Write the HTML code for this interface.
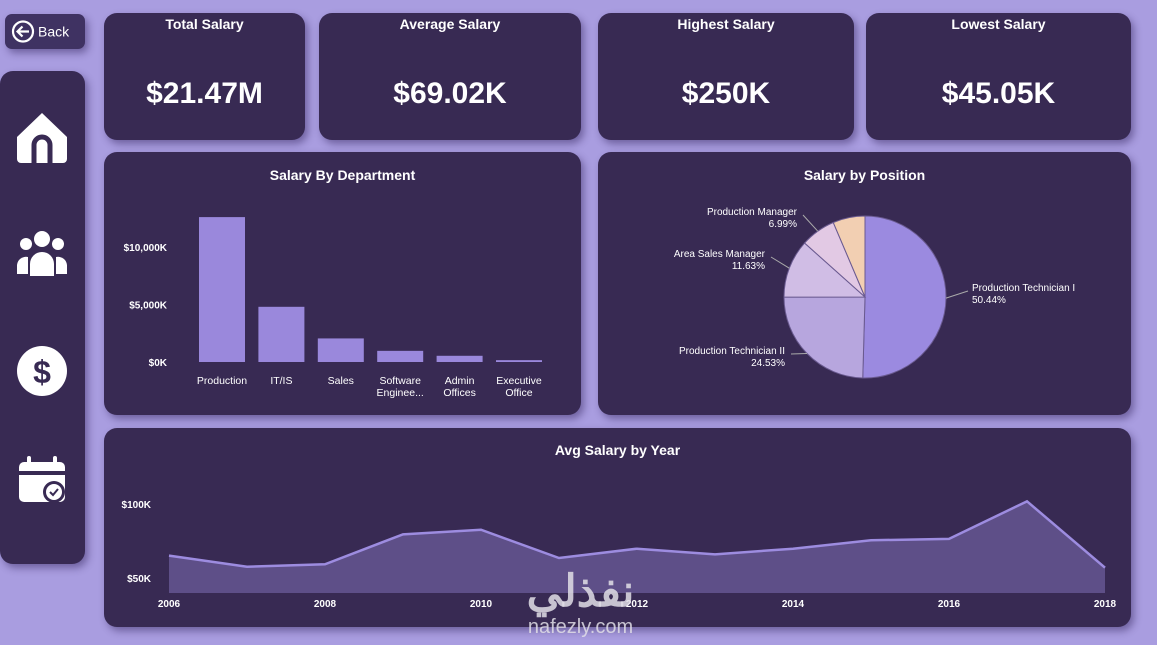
<!DOCTYPE html>
<html><head><meta charset="utf-8">
<style>
*{margin:0;padding:0;box-sizing:border-box}
body{width:1157px;height:645px;background:#a99de0;font-family:"Liberation Sans",sans-serif;position:relative;overflow:hidden}
.card{position:absolute;background:#382a53;border-radius:13px;box-shadow:3px 4px 8px rgba(40,25,80,.45)}
.kt{position:absolute;top:3px;left:0;right:0;text-align:center;color:#fff;font-weight:bold;font-size:14px}
.kv{position:absolute;top:64px;left:0;right:0;text-align:center;color:#fff;font-weight:bold;font-size:30px}
.ct{position:absolute;left:0;right:0;text-align:center;color:#fff;font-weight:bold;font-size:14px}
svg text{font-family:"Liberation Sans",sans-serif}
</style></head><body>
<div class="card" style="left:5px;top:14px;width:80px;height:35px;border-radius:7px;background:#3f3262">
<svg width="80" height="35"><circle cx="18" cy="17.5" r="10" fill="none" stroke="#fff" stroke-width="2.2"/><path d="M24 17.5H13M17.5 12.5L12.5 17.5L17.5 22.5" fill="none" stroke="#fff" stroke-width="2.2"/><text x="33" y="22.5" fill="#fff" font-size="14">Back</text></svg></div>
<div class="card" style="left:0;top:71px;width:85px;height:493px">
<svg width="85" height="493">
<g><path d="M17 66 L42 42 L67 66 V88 a4 4 0 0 1 -4 4 H21 a4 4 0 0 1 -4 -4Z" fill="#fff"/><path d="M34 92 V74 a8 8 0 0 1 16 0 V92" fill="none" stroke="#382a53" stroke-width="5"/></g>
<g fill="#fff"><circle cx="42" cy="168" r="8"/><circle cx="26" cy="173" r="6"/><circle cx="58" cy="173" r="6"/><path d="M30 205 v-12 a12 12 0 0 1 24 0 v12Z"/><path d="M17 203 v-9 a9 9 0 0 1 11 -8 v17Z"/><path d="M67 203 v-9 a9 9 0 0 0 -11 -8 v17Z"/></g>
<g><circle cx="42" cy="300" r="25" fill="#fff"/><text x="42" y="312" text-anchor="middle" font-size="32" font-weight="bold" fill="#382a53">$</text></g>
<g><rect x="19" y="391" width="46" height="40" rx="5" fill="#fff"/><rect x="19" y="400" width="46" height="4" fill="#382a53"/><rect x="27" y="385" width="4" height="10" rx="2" fill="#fff"/><rect x="53" y="385" width="4" height="10" rx="2" fill="#fff"/><circle cx="54" cy="421" r="11" fill="#382a53"/><circle cx="54" cy="421" r="8" fill="#fff"/><path d="M50 421 l3 3 l5 -6" fill="none" stroke="#382a53" stroke-width="2"/></g>
</svg></div>

<div class="card" style="left:104px;top:13px;width:201px;height:127px"><div class="kt">Total Salary</div><div class="kv">$21.47M</div></div>
<div class="card" style="left:319px;top:13px;width:262px;height:127px"><div class="kt">Average Salary</div><div class="kv">$69.02K</div></div>
<div class="card" style="left:598px;top:13px;width:256px;height:127px"><div class="kt">Highest Salary</div><div class="kv">$250K</div></div>
<div class="card" style="left:866px;top:13px;width:265px;height:127px"><div class="kt">Lowest Salary</div><div class="kv">$45.05K</div></div>

<div class="card" style="left:104px;top:152px;width:477px;height:263px"><div class="ct" style="top:15px">Salary By Department</div></div>
<div class="card" style="left:598px;top:152px;width:533px;height:263px"><div class="ct" style="top:15px">Salary by Position</div></div>
<div class="card" style="left:104px;top:428px;width:1027px;height:199px"><div class="ct" style="top:14px">Avg Salary by Year</div></div>

<svg id="ch" width="1157" height="645" style="position:absolute;left:0;top:0"></svg>
<div style="position:absolute;left:503px;top:568px;width:155px;text-align:center;color:rgba(225,222,230,.85);font-family:'Liberation Sans','Noto Sans CJK SC',sans-serif">
<div style="font-size:44px;font-weight:bold;line-height:48px">نفذلي</div><div style="font-size:20px;line-height:22px">nafezly.com</div></div>

<script>
const deptNames=["Production","IT/IS","Sales","Software|Enginee...","Admin|Offices","Executive|Office"];
const deptValues=[12600,4800,2050,970,540,160];
const deptTicks=[0,5000,10000];
const deptTickLabels=["$0K","$5,000K","$10,000K"];
const posNames=["Production Technician I","Production Technician II","Area Sales Manager","Production Manager","Other"];
const posValues=[50.44,24.53,11.63,6.99,6.41];
const years=[2006,2007,2008,2009,2010,2011,2012,2013,2014,2015,2016,2017,2018];
const avgSalary=[65.1,57.6,59.3,79.5,82.6,63.5,69.8,66,69.8,75.5,76.4,101.8,57];
const yearTicks=[50,100];
const yearTickLabels=["$50K","$100K"];

const svg=document.getElementById('ch');const NS="http://www.w3.org/2000/svg";
function mk(t,a,p){const e=document.createElementNS(NS,t);for(const k in a)e.setAttribute(k,a[k]);(p||svg).appendChild(e);return e;}
const by=v=>362-v*0.0115, bx=i=>222+i*59.4;
deptTicks.forEach((t,i)=>{const e=mk('text',{x:167,y:by(t)+4,'text-anchor':'end',fill:'#fff','font-size':10,'font-weight':'bold'});e.textContent=deptTickLabels[i];

});
deptValues.forEach((v,i)=>{const r=mk('rect',{x:bx(i)-23,y:by(v),width:46,height:362-by(v),fill:'#9a88dc'});


deptNames[i].split('|').forEach((l,j)=>{const e=mk('text',{x:bx(i),y:384+j*12,'text-anchor':'middle',fill:'#fff','font-size':10.5});e.textContent=l;

});});
const cx=865,cy=297,R=81;const cols=['#9b8ae0','#b7a6de','#d0bde5','#e2c9e4','#f2cfb2'];
const total=posValues.reduce((a,b)=>a+b,0);let ang=-Math.PI/2;
const labelPos=[[972,295,'start'],[785,358,'end'],[765,261,'end'],[797,219,'end']];
posValues.forEach((v,i)=>{const a2=ang+v/total*2*Math.PI;const x1=cx+R*Math.cos(ang),y1=cy+R*Math.sin(ang),x2=cx+R*Math.cos(a2),y2=cy+R*Math.sin(a2);
const p=mk('path',{d:`M${cx} ${cy}L${x1} ${y1}A${R} ${R} 0 ${a2-ang>Math.PI?1:0} 1 ${x2} ${y2}Z`,fill:cols[i],stroke:'#6a5a90','stroke-width':1});


const m=(ang+a2)/2;ang=a2;
if(i<4){const lp=labelPos[i];const ex=cx+R*Math.cos(m),ey=cy+R*Math.sin(m);
mk('path',{d:`M${ex} ${ey}L${lp[2]=='start'?lp[0]-4:lp[0]+6} ${lp[1]-4}`,stroke:'#aaa','stroke-width':1,fill:'none'});
const t=mk('text',{x:lp[0],y:lp[1]-4,'text-anchor':lp[2],fill:'#fff','font-size':10});t.textContent=posNames[i];


const t2=mk('text',{x:lp[0],y:lp[1]+8,'text-anchor':lp[2],fill:'#fff','font-size':10});t2.textContent=v.toFixed(2)+'%';

}});
const lx=y=>169+(y-2006)*78, ly=v=>578-(v-50)*1.48;const base=593;
yearTicks.forEach((t,i)=>{const e=mk('text',{x:151,y:ly(t)+4,'text-anchor':'end',fill:'#fff','font-size':10,'font-weight':'bold'});e.textContent=yearTickLabels[i];

});
let d='';years.forEach((y,i)=>{d+=(i?'L':'M')+lx(y)+' '+ly(avgSalary[i]);});
const ar=mk('path',{d:d+`L${lx(2018)} ${base}L${lx(2006)} ${base}Z`,fill:'#5e4f88'});


const ln=mk('path',{d:d,fill:'none',stroke:'#9d8ce0','stroke-width':2.5});


years.forEach(y=>{if(y%2==0){const e=mk('text',{x:lx(y),y:607,'text-anchor':'middle',fill:'#fff','font-size':10,'font-weight':'bold'});e.textContent=y;

}});
</script>
</body></html>
